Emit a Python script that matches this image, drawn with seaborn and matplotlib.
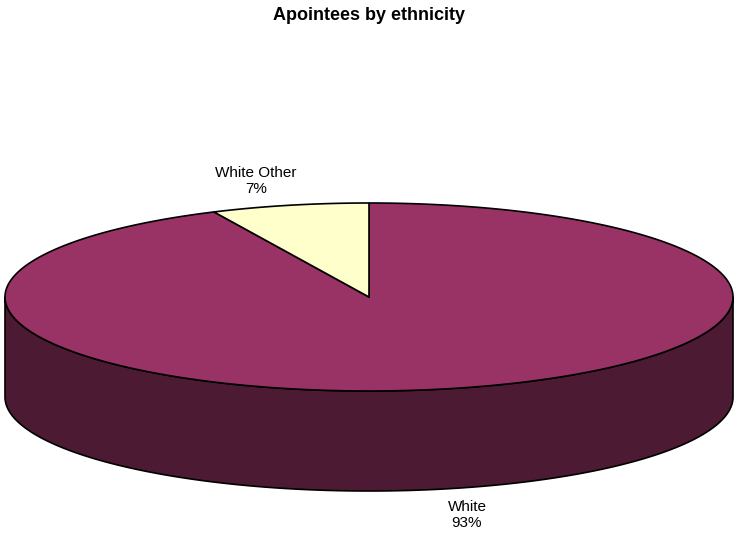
import numpy as np
import matplotlib
matplotlib.use("Agg")
import matplotlib.pyplot as plt
from matplotlib.patches import Polygon
import seaborn as sns

# Appointees by ethnicity (percent of total)
groups = ["White", "White Other"]
shares = [93, 7]
top_colors = ["#993366", "#FFFFCC"]
side_colors = ["#4C1A33", "#80806A"]

sns.set_theme(style="white")
plt.rcParams["font.family"] = ["Liberation Sans", "DejaVu Sans"]

W, H = 735, 533
fig = plt.figure(figsize=(W / 100, H / 100), dpi=100)
ax = fig.add_axes([0, 0, 1, 1])
ax.set_xlim(0, W)
ax.set_ylim(H, 0)
ax.axis("off")

# 3-D pie geometry (pixel space)
cx, cy = 369, 297
a, b = 364, 94
depth = 100
edge = dict(edgecolor="black", linewidth=1.2, joinstyle="round")


def rim(t_deg, dy=0.0):
    t = np.radians(t_deg)
    return np.column_stack([cx + a * np.cos(t), cy - b * np.sin(t) + dy])


# slice angles, clockwise from 12 o'clock
total = float(sum(shares))
spans = []
start = 90.0
for s in shares:
    sweep = 360.0 * s / total
    spans.append((start - sweep, start))
    start -= sweep

# front walls (visible part lies between 180 and 360 degrees)
for (t1, t2), col in zip(spans, side_colors):
    for k in (-1, 0, 1):
        lo, hi = max(t1, 180 + 360 * k), min(t2, 360 + 360 * k)
        if hi > lo:
            ts = np.linspace(lo, hi, 200)
            upper = rim(ts)
            lower = rim(ts[::-1], depth)
            ax.add_patch(Polygon(np.vstack([upper, lower]), closed=True,
                                 facecolor=col, **edge))

# top faces
for (t1, t2), col in zip(spans, top_colors):
    ts = np.linspace(t1, t2, 400)
    pts = np.vstack([[cx, cy], rim(ts)])
    ax.add_patch(Polygon(pts, closed=True, facecolor=col, **edge))

# labels
label_pos = {"White": (467, 515), "White Other": (256, 181)}
for g, s in zip(groups, shares):
    x, y = label_pos[g]
    ax.text(x, y, f"{g}\n{s}%", ha="center", va="center", fontsize=11,
            color="black", linespacing=1.2)

ax.text(W / 2 + 2, 15, "Apointees by ethnicity", ha="center", va="center",
        fontsize=13, fontweight="bold", color="black")

fig.savefig("out.png", dpi=100, facecolor="white")
